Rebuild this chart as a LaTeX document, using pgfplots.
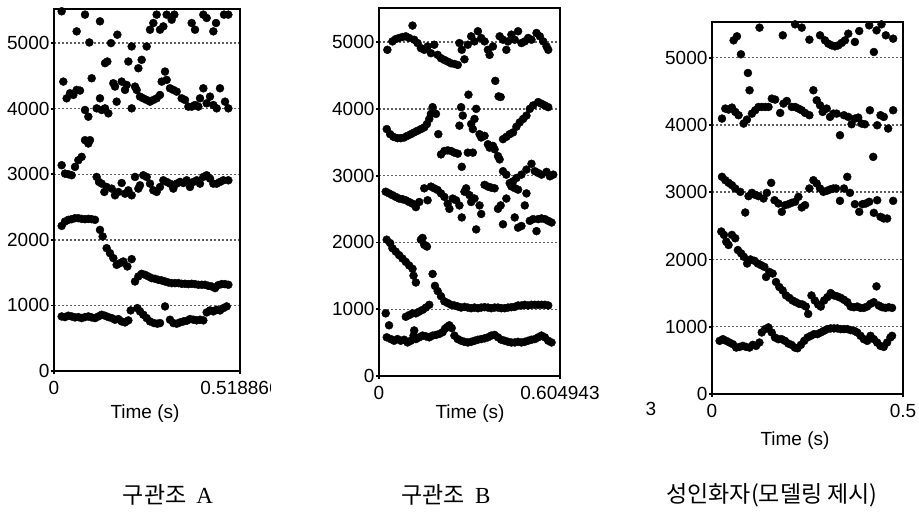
\documentclass[border=0pt]{standalone}
\usepackage{pgfplots}
\pgfplotsset{compat=1.18}
\usepackage{fontspec}
\setmainfont{Liberation Sans}
\newfontfamily\kr{Noto Sans CJK KR}
\newfontfamily\lserif{Liberation Serif}
\pgfplotsset{
  dot/.style={only marks, mark=*, black, mark size=2pt, mark options={fill=black, draw=black, line width=0.2pt}},
  formant/.style={
    scale only axis, anchor=south west,
    xmin=0, ymin=0,
    ytick={0,1000,2000,3000,4000,5000},
    ymajorgrids,
    major grid style={gray!75!black, line width=0.7pt, dash pattern=on 1.2pt off 0.8pt},
    axis line style={line width=1.1pt, black},
    tick align=outside, major tick length=1.5pt,
    xtick pos=left, ytick pos=left,
    tick style={line width=0.9pt, black},
    /pgf/number format/assume math mode=true,
    /pgf/number format/1000 sep={},
    scaled ticks=false,
    ticklabel style={font=\fontsize{9.5}{10}\selectfont},
    yticklabel style={inner sep=0.6pt},
    xticklabel style={inner sep=0pt, yshift=-3.5pt},
  }
}
\begin{document}
\begin{tikzpicture}[x=0.5pt, y=-0.5pt]
\path[use as bounding box] (0,0) rectangle (919,513);

% ---------------- Panel A ----------------
\begin{axis}[formant, at={(27pt,-185.5pt)}, width=93pt, height=181pt,
  xmax=0.518866, ymax=5520, xtick={0,0.518866}, xticklabels={0,0.518866}]
\addplot[dot] coordinates {(0.0214,832)(0.0307,822)(0.0400,843)(0.0493,832)(0.0586,817)(0.0679,822)(0.0772,807)(0.0865,822)(0.0958,832)(0.1051,817)(0.1144,807)(0.1237,832)(0.1330,858)(0.1423,843)(0.1516,822)(0.1609,807)(0.1702,782)(0.1795,792)(0.1888,756)(0.1981,741)(0.2074,772)(0.2139,924)(0.2325,959)(0.2399,909)(0.2492,858)(0.2585,807)(0.2678,756)(0.2790,731)(0.2883,721)(0.2957,731)(0.3097,985)(0.3236,782)(0.3329,731)(0.3422,721)(0.3515,741)(0.3608,756)(0.3701,766)(0.3794,792)(0.3887,782)(0.3980,772)(0.4073,782)(0.4166,772)(0.4259,893)(0.4352,924)(0.4445,909)(0.4538,934)(0.4631,924)(0.4724,959)(0.4817,985)};
\addplot[dot] coordinates {(0.0214,2213)(0.0307,2279)(0.0400,2305)(0.0493,2315)(0.0586,2330)(0.0679,2330)(0.0772,2320)(0.0865,2315)(0.0958,2320)(0.1051,2315)(0.1144,2305)(0.1283,2152)(0.1358,2051)(0.1469,1873)(0.1562,1797)(0.1655,1721)(0.1748,1619)(0.1841,1645)(0.1934,1670)(0.2046,1594)(0.2167,1706)(0.2260,1365)(0.2353,1442)(0.2446,1482)(0.2539,1467)(0.2632,1442)(0.2725,1416)(0.2818,1406)(0.2911,1391)(0.3004,1381)(0.3097,1365)(0.3190,1350)(0.3283,1340)(0.3376,1340)(0.3469,1340)(0.3562,1330)(0.3655,1330)(0.3748,1325)(0.3841,1330)(0.3934,1325)(0.4027,1315)(0.4120,1315)(0.4213,1315)(0.4306,1299)(0.4399,1289)(0.4492,1264)(0.4585,1310)(0.4678,1325)(0.4771,1325)(0.4864,1315)};
\addplot[dot] coordinates {(0.0214,3138)(0.0307,3010)(0.0400,3000)(0.0493,2985)(0.0586,3112)(0.0679,3214)(0.0772,3265)(0.0865,3520)(0.0958,3469)(0.1004,3520)(0.1190,2959)(0.1256,2883)(0.1330,2857)(0.1404,2730)(0.1469,2806)(0.1609,2781)(0.1702,2679)(0.1795,2730)(0.1888,2867)(0.1981,2704)(0.2074,2755)(0.2167,2679)(0.2260,2959)(0.2353,2781)(0.2399,2832)(0.2492,2985)(0.2585,2959)(0.2678,2857)(0.2771,2755)(0.2864,2730)(0.2957,2806)(0.3050,2908)(0.3143,2883)(0.3236,2857)(0.3329,2781)(0.3422,2857)(0.3515,2883)(0.3608,2867)(0.3701,2908)(0.3794,2806)(0.3887,2883)(0.3980,2908)(0.4073,2857)(0.4166,2959)(0.4259,2985)(0.4352,2934)(0.4445,2857)(0.4538,2857)(0.4631,2883)(0.4724,2908)(0.4864,2908)};
\addplot[dot] coordinates {(0.0260,4413)(0.0353,4158)(0.0446,4235)(0.0539,4209)(0.0632,4286)(0.0725,4276)(0.0865,3980)(0.0958,3878)(0.1051,4464)(0.1190,4005)(0.1283,4158)(0.1330,3980)(0.1423,4005)(0.1516,3929)(0.1655,4388)(0.1702,4337)(0.1748,4107)(0.1888,4413)(0.1981,4286)(0.2027,4362)(0.2167,4005)(0.2260,4337)(0.2306,4286)(0.2399,4184)(0.2492,4158)(0.2585,4133)(0.2678,4107)(0.2771,4133)(0.2864,4158)(0.2957,4209)(0.3004,4413)(0.3097,4566)(0.3143,4439)(0.3236,4311)(0.3329,4286)(0.3422,4260)(0.3562,4158)(0.3655,4133)(0.3748,4031)(0.3841,4031)(0.3934,4056)(0.4027,4031)(0.4073,4158)(0.4166,4311)(0.4259,4082)(0.4352,4184)(0.4445,4056)(0.4538,4005)(0.4631,4311)(0.4771,4107)(0.4864,4005)(0.1423,4694)(0.1488,4719)(0.2074,4719)(0.2353,4617)(0.2446,4745)};
\addplot[dot] coordinates {(0.0214,5485)(0.0632,5179)(0.0865,5434)(0.0986,5010)(0.1283,5332)(0.1590,5000)(0.1767,5128)(0.2167,4949)(0.2585,4949)(0.2678,5204)(0.2771,5306)(0.2864,5434)(0.2957,5204)(0.3050,5255)(0.3143,5434)(0.3283,5357)(0.3357,5434)(0.3841,5306)(0.3934,5204)(0.4166,5434)(0.4259,5383)(0.4445,5179)(0.4520,5306)(0.4743,5434)(0.4864,5434)};
\end{axis}

% ---------------- Panel B ----------------
\begin{axis}[formant, at={(189.5pt,-188pt)}, width=90.5pt, height=184pt,
  xmax=0.604943, ymax=5510, xtick={0,0.604943}, xticklabels={0,0.604943}]
\addplot[dot] coordinates {(0.0258,579)(0.0392,553)(0.0504,528)(0.0616,553)(0.0728,528)(0.0840,543)(0.0952,502)(0.1064,528)(0.1154,605)(0.1176,682)(0.1232,553)(0.1344,579)(0.1456,605)(0.1568,594)(0.1680,579)(0.1792,605)(0.1904,615)(0.2016,630)(0.2128,656)(0.2206,707)(0.2274,733)(0.2352,759)(0.2430,718)(0.2520,605)(0.2632,553)(0.2744,528)(0.2856,512)(0.2968,502)(0.3080,512)(0.3192,528)(0.3304,543)(0.3416,553)(0.3528,564)(0.3640,579)(0.3752,605)(0.3864,615)(0.3976,579)(0.4088,543)(0.4200,528)(0.4312,512)(0.4424,502)(0.4536,502)(0.4648,512)(0.4760,502)(0.4872,512)(0.4984,528)(0.5096,543)(0.5208,553)(0.5320,579)(0.5432,605)(0.5544,579)(0.5656,528)(0.5768,502)(0.0336,759)};
\addplot[dot] coordinates {(0.0258,2041)(0.0370,1990)(0.0448,1913)(0.0560,1862)(0.0672,1810)(0.0784,1759)(0.0896,1708)(0.1008,1656)(0.1120,1605)(0.1154,1502)(0.1232,1400)(0.1400,2041)(0.1456,2067)(0.1512,1964)(0.1602,1938)(0.1792,1528)(0.1870,1349)(0.1960,1272)(0.2072,1195)(0.2184,1118)(0.2296,1092)(0.2408,1066)(0.2520,1056)(0.2632,1041)(0.2744,1025)(0.2856,1035)(0.2968,1025)(0.3080,1015)(0.3192,1025)(0.3304,1015)(0.3416,1025)(0.3528,1030)(0.3640,1025)(0.3752,1015)(0.3864,1025)(0.3976,1025)(0.4088,1015)(0.4200,1015)(0.4312,1025)(0.4424,1030)(0.4536,1035)(0.4648,1056)(0.4760,1056)(0.4872,1066)(0.4984,1056)(0.5096,1066)(0.5208,1066)(0.5320,1066)(0.5432,1066)(0.5544,1066)(0.5656,1056)(0.0224,938)(0.0896,887)(0.1008,912)(0.1120,938)(0.1232,938)(0.1344,964)(0.1456,990)(0.1568,1025)(0.1680,1066)};
\addplot[dot] coordinates {(0.0224,2759)(0.0336,2734)(0.0448,2708)(0.0560,2682)(0.0672,2657)(0.0784,2647)(0.0896,2631)(0.1008,2605)(0.1120,2580)(0.1232,2528)(0.1344,2605)(0.1624,2631)(0.1512,2810)(0.1736,2836)(0.1848,2810)(0.1960,2785)(0.2072,2734)(0.2184,2682)(0.2296,2580)(0.2352,2503)(0.2464,2657)(0.2576,2631)(0.2688,2554)(0.2766,2374)(0.2856,2759)(0.2912,2810)(0.3024,2708)(0.3080,2605)(0.3192,2657)(0.3248,2195)(0.3360,2554)(0.3416,2426)(0.3528,2862)(0.3640,2836)(0.3752,2820)(0.3864,2810)(0.3976,2503)(0.4066,2554)(0.4144,2272)(0.4256,2657)(0.4536,2374)(0.4648,2221)(0.4760,2246)(0.4872,2554)(0.4928,2734)(0.5040,2323)(0.5152,2349)(0.5264,2169)(0.5320,2349)(0.5432,2359)(0.5544,2349)(0.5656,2323)(0.5768,2298)(0.4144,3066)(0.4256,3015)(0.4368,2889)(0.4480,2914)(0.4592,2965)(0.4760,3015)(0.4928,3091)(0.5096,3177)(0.5208,3066)(0.5320,3040)(0.5432,3015)(0.5600,3056)(0.5712,2990)(0.5824,3015)(0.4424,2839)(0.4536,2813)(0.4648,2790)};
\addplot[dot] coordinates {(0.0258,3697)(0.0370,3621)(0.0482,3581)(0.0616,3561)(0.0728,3561)(0.0840,3571)(0.0952,3596)(0.1064,3621)(0.1176,3647)(0.1288,3672)(0.1400,3697)(0.1512,3722)(0.1602,3773)(0.1680,3849)(0.1736,3924)(0.1792,4025)(0.1904,3924)(0.1982,3621)(0.2072,3318)(0.2184,3369)(0.2296,3379)(0.2408,3369)(0.2520,3344)(0.2632,3329)(0.2766,3132)(0.2968,3344)(0.3136,3344)(0.2688,3748)(0.2744,4025)(0.2800,3899)(0.2990,4212)(0.3080,3773)(0.3136,3697)(0.3192,3849)(0.3248,4000)(0.3360,3621)(0.3416,3571)(0.3528,3596)(0.3640,3470)(0.3696,3419)(0.3808,3445)(0.3864,3394)(0.3886,4419)(0.3976,3293)(0.3998,4187)(0.4032,3243)(0.4066,4177)(0.4144,3546)(0.4256,3581)(0.4368,3621)(0.4480,3647)(0.4592,3732)(0.4704,3798)(0.4816,3849)(0.4928,3899)(0.5040,4000)(0.5152,4051)(0.5320,4101)(0.5432,4076)(0.5544,4051)(0.5656,4025)};
\addplot[dot] coordinates {(0.0280,4884)(0.0448,5010)(0.0560,5045)(0.0672,5061)(0.0784,5076)(0.0896,5086)(0.1008,5061)(0.1120,5247)(0.1176,5035)(0.1288,4985)(0.1400,4909)(0.1512,4884)(0.1624,4934)(0.1736,4833)(0.1848,4960)(0.1960,4808)(0.2072,4758)(0.2184,4732)(0.2296,4707)(0.2408,4682)(0.2520,4672)(0.2632,4657)(0.2688,4985)(0.2766,4884)(0.2856,4742)(0.2968,4960)(0.3080,5086)(0.3192,5010)(0.3304,5162)(0.3416,5061)(0.3528,5010)(0.3640,4884)(0.3696,4808)(0.3808,4934)(0.4032,5086)(0.4144,5035)(0.4256,4884)(0.4312,5010)(0.4424,5111)(0.4536,5035)(0.4648,5162)(0.4760,4985)(0.4872,5010)(0.4984,5061)(0.5096,5035)(0.5264,5136)(0.5376,5086)(0.5488,5010)(0.5600,4934)(0.5656,4884)};
\end{axis}

% ---------------- Panel C ----------------
\begin{axis}[formant, at={(356pt,-197pt)}, width=95.5pt, height=186pt,
  xmax=0.5, ymax=5530, xtick={0,0.5}, xticklabels={0,0.5}]
\addplot[dot] coordinates {(0.0200,790)(0.0286,815)(0.0373,790)(0.0460,765)(0.0547,740)(0.0634,690)(0.0720,700)(0.0807,715)(0.0894,700)(0.0981,690)(0.1068,730)(0.1154,715)(0.1241,765)(0.1302,915)(0.1389,965)(0.1476,990)(0.1562,915)(0.1649,840)(0.1736,815)(0.1823,815)(0.1910,790)(0.1996,750)(0.2083,730)(0.2170,690)(0.2239,680)(0.2326,730)(0.2413,790)(0.2500,840)(0.2587,865)(0.2673,890)(0.2760,890)(0.2847,915)(0.2934,940)(0.3021,965)(0.3107,975)(0.3194,975)(0.3281,975)(0.3368,965)(0.3455,965)(0.3541,965)(0.3628,950)(0.3715,940)(0.3802,915)(0.3889,865)(0.3975,815)(0.4062,790)(0.4149,865)(0.4236,815)(0.4323,765)(0.4409,715)(0.4496,700)(0.4583,765)(0.4670,840)(0.4713,865)};
\addplot[dot] coordinates {(0.0243,2415)(0.0312,2365)(0.0373,2265)(0.0434,2215)(0.0521,2365)(0.0608,2315)(0.0677,2140)(0.0764,2090)(0.0833,2040)(0.0920,1940)(0.1007,2000)(0.1111,1980)(0.1198,1940)(0.1285,1915)(0.1371,1890)(0.1415,1740)(0.1502,1815)(0.1588,1790)(0.1675,1665)(0.1762,1590)(0.1849,1540)(0.1936,1465)(0.2022,1430)(0.2109,1390)(0.2196,1365)(0.2283,1340)(0.2370,1330)(0.2456,1300)(0.2517,1190)(0.2604,1465)(0.2691,1390)(0.2778,1330)(0.2847,1300)(0.2934,1390)(0.3021,1440)(0.3107,1500)(0.3194,1465)(0.3281,1450)(0.3368,1430)(0.3455,1400)(0.3541,1365)(0.3628,1300)(0.3715,1290)(0.3802,1300)(0.3889,1280)(0.3975,1280)(0.4062,1300)(0.4149,1340)(0.4236,1365)(0.4305,1600)(0.4366,1315)(0.4453,1290)(0.4540,1280)(0.4626,1290)(0.4713,1280)};
\addplot[dot] coordinates {(0.0261,3228)(0.0348,3178)(0.0435,3139)(0.0522,3104)(0.0609,3055)(0.0740,3005)(0.0870,2698)(0.0957,2941)(0.1044,2990)(0.1131,2960)(0.1218,2941)(0.1349,2906)(0.1436,2990)(0.1549,3139)(0.1636,2881)(0.1740,2832)(0.1827,2708)(0.1914,2807)(0.2001,2822)(0.2088,2842)(0.2175,2857)(0.2262,2931)(0.2349,2773)(0.2436,2807)(0.2549,3055)(0.2654,3178)(0.2741,3129)(0.2828,3055)(0.2915,3005)(0.3002,3020)(0.3089,3040)(0.3176,3055)(0.3245,3055)(0.3350,2871)(0.3454,3055)(0.3541,3228)(0.3611,2990)(0.3741,2822)(0.3854,2708)(0.3941,2822)(0.4028,2832)(0.4115,2857)(0.4237,2693)(0.4324,2881)(0.4411,2634)(0.4498,2609)(0.4585,2609)(0.4742,2871)};
\addplot[dot] coordinates {(0.0261,4094)(0.0348,4243)(0.0435,4228)(0.0522,4257)(0.0609,4193)(0.0696,4144)(0.0827,4020)(0.0914,4079)(0.0983,4515)(0.0940,4772)(0.1044,4168)(0.1131,4218)(0.1218,4267)(0.1305,4267)(0.1392,4267)(0.1479,4267)(0.1566,4391)(0.1653,4376)(0.1784,4178)(0.1871,4317)(0.1958,4356)(0.2088,4267)(0.2175,4267)(0.2262,4243)(0.2349,4218)(0.2436,4178)(0.2549,4144)(0.2654,4515)(0.2741,4366)(0.2828,4292)(0.2897,4193)(0.3002,4243)(0.3089,4119)(0.3176,4168)(0.3263,4168)(0.3350,3847)(0.3454,4144)(0.3567,4119)(0.3654,4010)(0.3741,4094)(0.3828,4109)(0.3915,4020)(0.4002,4010)(0.4133,4218)(0.4220,3525)(0.4324,3995)(0.4411,4144)(0.4498,4119)(0.4611,3946)(0.4742,4218)};
\addplot[dot] coordinates {(0.0566,5257)(0.0653,5317)(0.0757,5050)(0.1244,5446)(0.1853,5332)(0.2175,5495)(0.2349,5446)(0.2549,5267)(0.2828,5332)(0.2958,5257)(0.3045,5208)(0.3132,5183)(0.3219,5168)(0.3306,5183)(0.3393,5218)(0.3480,5257)(0.3567,5356)(0.3741,5233)(0.3854,5396)(0.4115,5480)(0.4237,5084)(0.4307,5406)(0.4437,5495)(0.4550,5332)(0.4742,5282)};
\end{axis}

% crop of the cut-off tick label in panel A
\fill[white] (271,378) rectangle (300,402);

% axis titles and stray label
\node[font=\fontsize{9.5}{10}\selectfont] at (145,414) {Time (s)};
\node[font=\fontsize{9.5}{10}\selectfont] at (470,414) {Time (s)};
\node[font=\fontsize{9.5}{10}\selectfont] at (795,441) {Time (s)};
\node[font=\fontsize{9.5}{10}\selectfont] at (651,409) {3};

% captions
\node[font=\fontsize{11.5}{13}\selectfont] at (168,495) {{\kr 구관조}\hspace{5pt}{\lserif A}};
\node[font=\fontsize{11.5}{13}\selectfont] at (446,495) {{\kr 구관조}\hspace{5pt}{\lserif B}};
\node[font=\fontsize{11.5}{13}\selectfont] at (772,495) {{\kr 성인화자(모델링 제시)}};
\end{tikzpicture}
\end{document}
